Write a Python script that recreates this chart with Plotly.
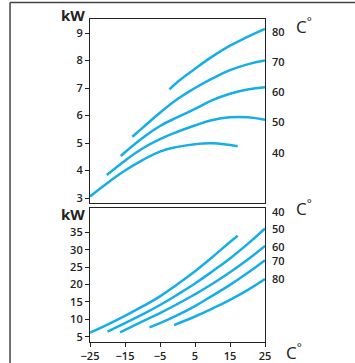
import plotly.graph_objects as go

# ---- data ----
temps = ["40", "50", "60", "70", "80"]

top_x = {
    "40": [-25, -20, -15, -10, -5, 0, 5, 10, 17.2],
    "50": [-20.2, -15, -10, -5, 0, 5, 10, 15, 20, 25],
    "60": [-16.2, -10, -5, 0, 5, 10, 15, 20, 25],
    "70": [-12.9, -10, -5, 0, 5, 10, 15, 20, 25],
    "80": [-2.3, 0, 5, 10, 15, 20, 25],
}
top_y = {
    "40": [3.06, 3.55, 4.0, 4.38, 4.69, 4.86, 4.96, 4.99, 4.88],
    "50": [3.84, 4.36, 4.8, 5.14, 5.41, 5.64, 5.84, 5.94, 5.94, 5.85],
    "60": [4.53, 5.18, 5.62, 5.94, 6.24, 6.56, 6.79, 6.95, 7.03],
    "70": [5.23, 5.55, 6.1, 6.6, 7.0, 7.35, 7.65, 7.86, 8.0],
    "80": [6.95, 7.22, 7.7, 8.15, 8.54, 8.86, 9.15],
}
bot_x = {
    "40": [-25, -20, -15, -10, -5, 0, 5, 10, 15, 17.2],
    "50": [-20, -15, -10, -5, 0, 5, 10, 15, 20, 25],
    "60": [-16.4, -10, -5, 0, 5, 10, 15, 20, 25],
    "70": [-8.0, -5, 0, 5, 10, 15, 20, 25],
    "80": [-1.0, 5, 10, 15, 20, 25],
}
bot_y = {
    "40": [6.15, 8.5, 11.0, 13.7, 16.6, 20.1, 23.8, 27.9, 32.2, 34.0],
    "50": [6.44, 8.9, 11.4, 14.1, 17.1, 20.3, 23.8, 27.5, 31.6, 36.1],
    "60": [6.25, 9.4, 11.8, 14.4, 17.2, 20.2, 23.5, 27.1, 31.1],
    "70": [7.7, 8.9, 11.2, 13.8, 16.8, 19.9, 23.3, 27.0],
    "80": [8.35, 10.8, 13.1, 15.6, 18.4, 21.6],
}
top_label_y = [4.66, 5.78, 6.86, 7.95, 9.07]
bot_label_y = [40.9, 36.1, 31.0, 26.8, 21.6]

x_ticks = [-25, -15, -5, 5, 15, 25]
x_ticktext = ["\u221225", "\u221215", "\u22125", "5", "15", "25"]
top_yticks = [3, 4, 5, 6, 7, 8, 9]
bot_yticks = [5, 10, 15, 20, 25, 30, 35]

color = "#16AEE8"
fnt = "Open Sans"

fig = go.Figure()
for t in temps:
    fig.add_trace(go.Scatter(x=top_x[t], y=top_y[t], mode="lines",
                             line=dict(color=color, width=2.5, shape="spline", smoothing=1.3),
                             xaxis="x", yaxis="y", showlegend=False, hoverinfo="skip"))
    fig.add_trace(go.Scatter(x=bot_x[t], y=bot_y[t], mode="lines",
                             line=dict(color=color, width=2.5, shape="spline", smoothing=1.3),
                             xaxis="x2", yaxis="y2", showlegend=False, hoverinfo="skip"))

tickfont = dict(family=fnt, size=11, color="#222", weight=600)
axline = dict(showline=True, linecolor="#222", linewidth=1.2, mirror=True, showgrid=False,
              zeroline=False, automargin=False)

fig.update_layout(
    template="none",
    width=355, height=363,
    margin=dict(l=90, r=90, t=19, b=21, autoexpand=False),
    paper_bgcolor="white", plot_bgcolor="white",
    xaxis=dict(domain=[0, 1], range=[-25, 25], anchor="y", showticklabels=False, ticks="", **axline),
    yaxis=dict(domain=[0.4303, 1], range=[2.82, 9.51], tickvals=top_yticks, ticks="outside", ticklen=4,
               tickcolor="#222", tickfont=tickfont, **axline),
    xaxis2=dict(domain=[0, 1], range=[-25, 25], anchor="y2", tickvals=x_ticks, ticktext=x_ticktext,
                ticks="outside", ticklen=4, tickcolor="#222", tickfont=tickfont, **axline),
    yaxis2=dict(domain=[0, 0.4149], range=[3.48, 41.98], tickvals=bot_yticks, ticks="outside", ticklen=4,
                tickcolor="#222", tickfont=tickfont, **axline),
)

ann = []
lab = dict(family=fnt, size=11, color="#222", weight=600)
for t, yv in zip(temps, top_label_y):
    ann.append(dict(x=1.03, xref="paper", y=yv, yref="y", text=t, showarrow=False, xanchor="left",
                    yanchor="middle", font=lab))
for t, yv in zip(temps, bot_label_y):
    ann.append(dict(x=1.03, xref="paper", y=yv, yref="y2", text=t, showarrow=False, xanchor="left",
                    yanchor="middle", font=lab))
big = dict(family=fnt, size=15, color="#222", weight=700)
ann.append(dict(x=-0.097, y=1.012, xref="paper", yref="paper", text="kW", showarrow=False,
                xanchor="center", yanchor="middle", font=big))
ann.append(dict(x=-0.097, y=0.396, xref="paper", yref="paper", text="kW", showarrow=False,
                xanchor="center", yanchor="middle", font=big))
cfont = dict(family=fnt, size=17, color="#222")
ann.append(dict(x=1.165, y=0.98, xref="paper", yref="paper", text="C<sup>°</sup>", showarrow=False,
                xanchor="left", yanchor="middle", font=cfont))
ann.append(dict(x=1.165, y=0.415, xref="paper", yref="paper", text="C<sup>°</sup>", showarrow=False,
                xanchor="left", yanchor="middle", font=cfont))
ann.append(dict(x=1.11, y=-0.03, xref="paper", yref="paper", text="C<sup>°</sup>", showarrow=False,
                xanchor="left", yanchor="middle", font=cfont))
fig.update_layout(annotations=ann)

fig.add_shape(type="line", xref="paper", yref="paper", x0=-0.457, x1=-0.457, y0=1.051, y1=-0.1,
              line=dict(color="#444", width=1.5))
fig.add_shape(type="line", xref="paper", yref="paper", x0=-0.457, x1=1.6, y0=1.051, y1=1.051,
              line=dict(color="#444", width=1.5))

fig.write_html("out.html", config={"displayModeBar": False},
               post_script="document.body.style.margin='0';")
